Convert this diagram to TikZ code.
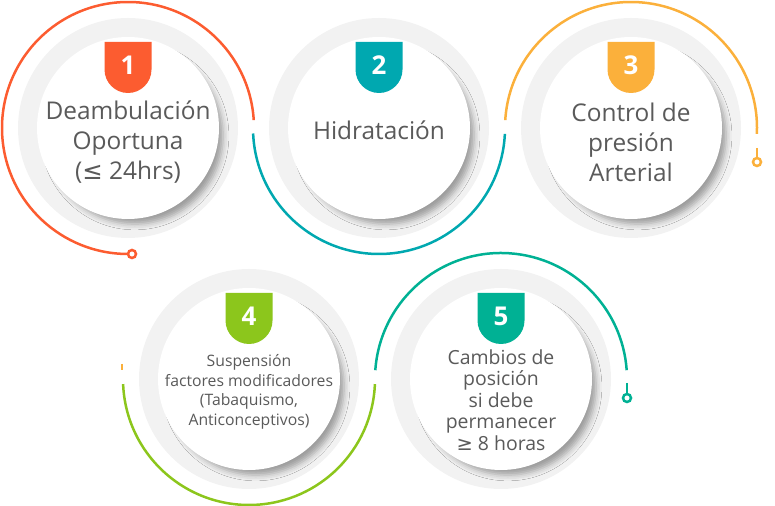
\documentclass[tikz,border=0pt]{standalone}
\usepackage{fontspec}
\setmainfont{Open Sans}
\newfontfamily\symfont{DejaVu Sans}
\definecolor{stepred}   {RGB}{252,92,48}
\definecolor{stepteal}  {RGB}{0,168,176}
\definecolor{stepgold}  {RGB}{251,176,59}
\definecolor{stepgreen} {RGB}{140,198,28}
\definecolor{stepsea}   {RGB}{0,177,148}
\definecolor{ringgray}  {RGB}{242,242,242}
\definecolor{textgray}  {RGB}{90,90,90}
\usetikzlibrary{calc,shadows.blur}
\tikzset{
  ring/.style={circle,fill=ringgray,minimum size=220bp,inner sep=0pt,outer sep=0pt},
  disc/.style={circle,fill=white,minimum size=182bp,inner sep=0pt,outer sep=0pt,
               blur shadow={shadow xshift=7bp,shadow yshift=-8bp,shadow scale=0.97,
                            shadow blur radius=6bp,shadow opacity=35}},
  numtag/.style={text=white,font=\fontsize{26}{26}\selectfont\bfseries,inner sep=0pt},
  steptext/.style={text=textgray,align=center,inner sep=0pt},
  arcline/.style={line width=2.5bp,draw=#1},
  arcline/.default=stepred,
  endmark/.style={circle,draw=#1,fill=white,line width=2.5bp,minimum size=8bp,
                  inner sep=0pt,outer sep=0pt},
  endmark/.default=stepred,
}

\begin{document}
\begin{tikzpicture}[x=1bp,y=1bp]
  \useasboundingbox (0,0) rectangle (775,506);
  % circles with their number tags
  \foreach \i/\cx/\cy/\col in {1/128/378/stepred, 2/379/378/stepteal,
      3/631/378/stepgold, 4/249/127/stepgreen, 5/501/127/stepsea}{
    \begin{scope}[shift={(\cx,\cy)}]
      \node[ring] (ring\i) at (0,0) {};
      \node[disc] (disc\i) at (0,0) {};
      \fill[\col] (-23.5,86) -- (-23.5,58.5)
            arc[start angle=180,end angle=360,radius=23.5] -- (23.5,86) -- cycle;
      \node[numtag] (num\i) at (0,63) {\i};
    \end{scope}
  }
  % labels
  \node[steptext,font=\fontsize{24.5}{30}\selectfont] (txt1) at ($(ring1.center)+(0,-14)$)
        {Deambulación\\Oportuna\\({\symfont ≤} 24hrs)};
  \node[steptext,font=\fontsize{24.5}{30}\selectfont] (txt2) at ($(ring2.center)+(0,-2)$)
        {Hidratación};
  \node[steptext,font=\fontsize{24.5}{30}\selectfont] (txt3) at ($(ring3.center)+(0,-14)$)
        {Control de\\presión\\Arterial};
  \node[steptext,font=\fontsize{15.8}{19.5}\selectfont] (txt4) at ($(ring4.center)+(0,-13)$)
        {Suspensión\\factores modificadores\\(Tabaquismo,\\Anticonceptivos)};
  \node[steptext,font=\fontsize{19.5}{21.5}\selectfont] (txt5) at ($(ring5.center)+(0,-21)$)
        {Cambios de\\posición\\si debe\\permanecer\\{\symfont ≥} 8 horas};
  % connecting arcs
  \draw[arcline=stepred] (ring1.center) ++(3.6:126)
        arc[start angle=3.6,end angle=270,radius=126]
        node[endmark=stepred,anchor=west] (mark1) {};
  \draw[arcline=stepteal] (ring2.center) ++(182.5:126)
        arc[start angle=182.5,end angle=357.3,radius=126];
  \draw[arcline=stepgold] (ring3.center) ++(176.4:126)
        arc[start angle=176.4,end angle=-2.7,radius=126];
  \draw[arcline=stepgold] ($(ring3.center)+(126,-20)$) -- ++(0,-10)
        node[endmark=stepgold,anchor=north] (mark3) {};
  \draw[arcline=stepgold] ($(ring4.center)+(-127,15)$) -- ++(0,-6);
  \draw[arcline=stepgreen] (ring4.center) ++(182.3:126)
        arc[start angle=182.3,end angle=357.7,radius=126];
  \draw[arcline=stepsea] (ring5.center) ++(176:126)
        arc[start angle=176,end angle=4,radius=126];
  \draw[arcline=stepsea] ($(ring5.center)+(126,-4)$) -- ++(0,-11)
        node[endmark=stepsea,anchor=north] (mark5) {};
\end{tikzpicture}
\end{document}
